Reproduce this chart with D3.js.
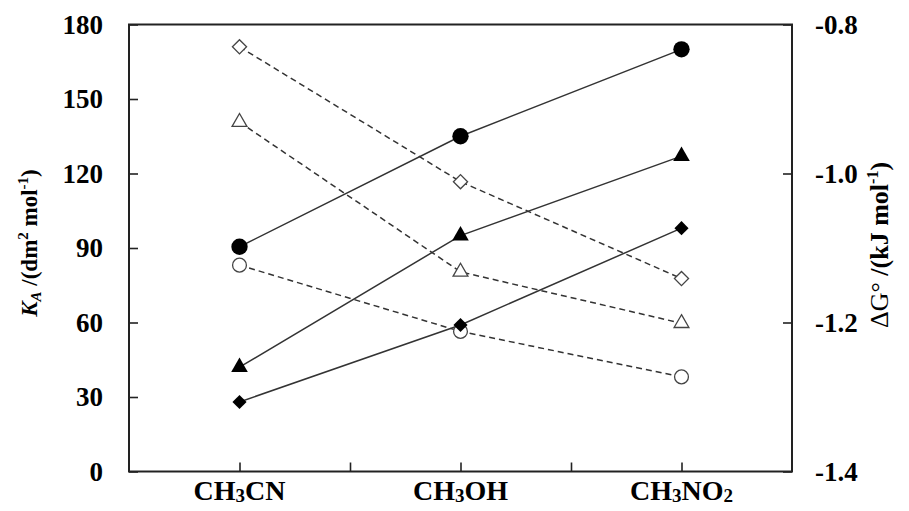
<!DOCTYPE html>
<html>
<head>
<meta charset="utf-8">
<script src="https://cdn.jsdelivr.net/npm/d3@7"></script>
<style>
  body { margin: 0; background: #fff; }
  text { font-family: "Liberation Serif", "Times New Roman", serif; font-weight: bold; fill: #000; }
</style>
</head>
<body>
<div id="chart"></div>
<script>
/* data */
var categories = [["CH", "3", "CN"], ["CH", "3", "OH"], ["CH", "3", "NO", "2"]];
var kaCircle   = [90.5, 135, 170];
var kaTriangle = [42, 95, 127];
var kaDiamond  = [28, 59, 98];
var dgDiamond  = [-0.83, -1.011, -1.141];
var dgTriangle = [-0.931, -1.132, -1.201];
var dgCircle   = [-1.123, -1.212, -1.273];
var leftTicks  = [0, 30, 60, 90, 120, 150, 180];
var rightTicks = [-1.4, -1.2, -1.0, -0.8];

/* constants */
var width = 909, height = 511;
var m = { left: 129, right: 792, top: 24.5, bottom: 471.5 };

var svg = d3.select("#chart").append("svg")
    .attr("width", width)
    .attr("height", height);

var x = d3.scaleLinear().domain([0, 3]).range([m.left, m.right]);
var yL = d3.scaleLinear().domain([0, 180]).range([m.bottom, m.top]);
var yR = d3.scaleLinear().domain([-1.4, -0.8]).range([m.bottom, m.top]);

/* axes: ticks inside */
svg.append("g")
    .attr("transform", "translate(" + m.left + ",0)")
    .call(d3.axisRight(yL).tickValues(leftTicks).tickSize(9).tickFormat(""))
    .call(function(g){ g.select(".domain").remove(); });

svg.append("g")
    .attr("transform", "translate(" + m.right + ",0)")
    .call(d3.axisLeft(yR).tickValues(rightTicks).tickSize(9).tickFormat(""))
    .call(function(g){ g.select(".domain").remove(); });

svg.append("g")
    .attr("transform", "translate(0," + m.bottom + ")")
    .call(d3.axisTop(x).tickValues([0.5, 1, 1.5, 2, 2.5]).tickSize(9).tickFormat(""))
    .call(function(g){ g.select(".domain").remove(); });

svg.selectAll(".tick line").attr("stroke", "#222").attr("stroke-width", 1.6);

// frame
svg.append("rect")
    .attr("x", m.left).attr("y", m.top)
    .attr("width", m.right - m.left).attr("height", m.bottom - m.top)
    .attr("fill", "none").attr("stroke", "#222").attr("stroke-width", 2);

/* tick labels */
svg.selectAll(".lt").data(leftTicks).enter().append("text")
    .attr("x", 103).attr("y", function(d){ return yL(d); })
    .attr("dy", "0.35em").attr("text-anchor", "end")
    .style("font-size", "27px")
    .text(function(d){ return d; });

svg.selectAll(".rt").data(rightTicks).enter().append("text")
    .attr("x", 815).attr("y", function(d){ return yR(d); })
    .attr("dy", "0.35em").attr("text-anchor", "start")
    .style("font-size", "27px")
    .text(function(d){ return d.toFixed(1); });

var cat = svg.selectAll(".cat").data(categories).enter().append("text")
    .attr("x", function(d, i){ return x(i + 0.5); })
    .attr("y", 502)
    .attr("text-anchor", "middle")
    .style("font-size", "28px");
cat.each(function(parts){
    var t = d3.select(this);
    parts.forEach(function(p){
        var sub = /^\d$/.test(p);
        t.append("tspan")
            .style("font-size", sub ? "19px" : "28px")
            .attr("dy", sub ? 2 : (t.selectAll("tspan").size() > 0 ? -2 : 0))
            .text(p);
    });
});

/* axis titles */
var lt = svg.append("text")
    .attr("transform", "translate(37,243) rotate(-90)")
    .attr("text-anchor", "middle")
    .style("font-size", "23px");
lt.append("tspan").style("font-style", "italic").text("K");
lt.append("tspan").style("font-style", "italic").style("font-size", "15px").attr("dy", 4).text("A");
lt.append("tspan").attr("dy", -4).text(" /(dm");
lt.append("tspan").style("font-size", "15px").attr("dy", -9).text("2");
lt.append("tspan").attr("dy", 9).text(" mol");
lt.append("tspan").style("font-size", "15px").attr("dy", -9).text("-1");
lt.append("tspan").attr("dy", 9).text(")");

var rtl = svg.append("text")
    .attr("transform", "translate(888,245) rotate(-90)")
    .attr("text-anchor", "middle")
    .style("font-size", "26px");
rtl.append("tspan").style("font-weight", "normal").text("ΔG°");
rtl.append("tspan").text(" /(kJ mol");
rtl.append("tspan").style("font-size", "16px").attr("dy", -10).text("-1");
rtl.append("tspan").attr("dy", 10).text(")");

/* series */
var series = [
    { v: dgDiamond,  y: yR, dash: true,  sym: "diamond",  fill: false },
    { v: dgTriangle, y: yR, dash: true,  sym: "triangle", fill: false },
    { v: dgCircle,   y: yR, dash: true,  sym: "circle",   fill: false },
    { v: kaCircle,   y: yL, dash: false, sym: "circle",   fill: true },
    { v: kaTriangle, y: yL, dash: false, sym: "triangle", fill: true },
    { v: kaDiamond,  y: yL, dash: false, sym: "diamond",  fill: true }
];

var line = function(s){
    return d3.line()
        .x(function(d, i){ return x(i + 0.5); })
        .y(function(d){ return s.y(d); })(s.v);
};

series.forEach(function(s){
    svg.append("path")
        .attr("d", line(s))
        .attr("fill", "none")
        .attr("stroke", "#333")
        .attr("stroke-width", 1.5)
        .attr("stroke-dasharray", s.dash ? "6,4" : null);
});

function symPath(s){
    if (s.sym === "circle") return d3.symbol().type(d3.symbolCircle).size(s.fill ? 210 : 150)();
    if (s.sym === "triangle") return d3.symbol().type(d3.symbolTriangle).size(s.fill ? 120 : 95)();
    return d3.symbol().type(d3.symbolSquare).size(s.fill ? 100 : 100)();
}

series.forEach(function(s){
    svg.selectAll(null).data(s.v).enter().append("path")
        .attr("d", symPath(s))
        .attr("transform", function(d, i){
            return "translate(" + x(i + 0.5) + "," + s.y(d) + ")" + (s.sym === "diamond" ? " rotate(45)" : "");
        })
        .attr("fill", s.fill ? "#000" : "#fff")
        .attr("stroke", s.fill ? "#000" : "#444")
        .attr("stroke-width", s.fill ? 0 : 1.3);
});
</script>
</body>
</html>
